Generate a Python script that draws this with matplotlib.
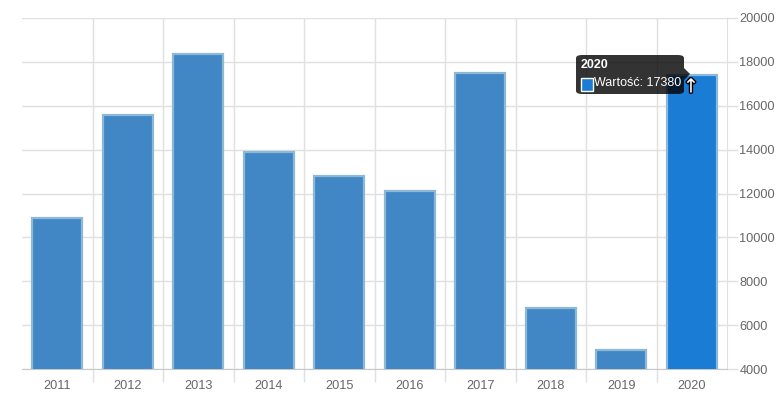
import matplotlib.pyplot as plt
import numpy as np
from matplotlib.patches import FancyBboxPatch, Polygon, Rectangle
from matplotlib.ticker import FixedLocator
import matplotlib.patheffects as pe

years = ["2011", "2012", "2013", "2014", "2015", "2016", "2017", "2018", "2019", "2020"]
values = [10900, 15590, 18340, 13900, 12810, 12130, 17480, 6790, 4880, 17380]
y_ticks = [4000, 6000, 8000, 10000, 12000, 14000, 16000, 18000, 20000]
tooltip_year = "2020"
tooltip_label = "Wartość"


def main():
    plt.rcParams["font.family"] = ["Liberation Sans", "DejaVu Sans"]
    W, H = 782, 398
    fig = plt.figure(figsize=(W / 100, H / 100), dpi=100)
    ax = fig.add_axes([22 / W, 1 - 369 / H, (727 - 22) / W, (369 - 18) / H])

    x = np.arange(len(years))
    colors = ["#4187C5"] * len(years)
    hi = years.index(tooltip_year)
    colors[hi] = "#1A7CD5"
    ax.bar(x, values, width=0.71, bottom=0, color=colors,
           edgecolor="#8DB9D6", linewidth=1.6, zorder=3)

    ax.set_xlim(-0.5, len(years) - 0.5)
    ax.set_ylim(y_ticks[0], y_ticks[-1])

    ax.set_xticks(x)
    ax.set_xticklabels(years)
    ax.xaxis.set_minor_locator(FixedLocator(np.arange(0.5, len(years) - 1, 1.0)))
    ax.tick_params(axis="x", which="major", length=0, pad=8, labelsize=9.2, labelcolor="#666666")
    ax.tick_params(axis="x", which="minor", length=9, color="#e0e0e0", width=1)

    ax.yaxis.tick_right()
    ax.set_yticks(y_ticks)
    ax.tick_params(axis="y", length=8, color="#e0e0e0", width=1, pad=1,
                   labelsize=9.2, labelcolor="#666666")

    ax.grid(which="major", axis="y", color="#e0e0e0", linewidth=1, zorder=0)
    ax.grid(which="minor", axis="x", color="#e0e0e0", linewidth=1, zorder=0)
    ax.set_axisbelow(True)

    for s in ["left", "top"]:
        ax.spines[s].set_visible(False)
    ax.spines["right"].set_color("#e0e0e0")
    ax.spines["bottom"].set_color("#c8c8c8")

    # tooltip (pixel coords -> figure fraction)
    def fx(px):
        return px / W

    def fy(py):
        return 1 - py / H

    box = FancyBboxPatch((fx(576), fy(94)), fx(684) - fx(576), fy(55) - fy(94),
                         boxstyle="round,pad=0,rounding_size=0.008",
                         transform=fig.transFigure, facecolor="black", alpha=0.8,
                         edgecolor="none", zorder=10)
    fig.add_artist(box)
    caret = Polygon([(fx(684), fy(68)), (fx(690), fy(74)), (fx(684), fy(80))],
                    closed=True, transform=fig.transFigure, facecolor="black",
                    alpha=0.8, edgecolor="none", zorder=10)
    fig.add_artist(caret)
    fig.text(fx(581), fy(65), tooltip_year, color="white", fontsize=9,
             fontweight="bold", va="center", ha="left", zorder=11)
    sq = Rectangle((fx(581), fy(91)), fx(593) - fx(581), fy(78) - fy(91),
                   transform=fig.transFigure, facecolor=colors[hi],
                   edgecolor="white", linewidth=1, zorder=11)
    fig.add_artist(sq)
    fig.text(fx(594), fy(83), f"{tooltip_label}: {values[hi]}", color="white",
             fontsize=9, va="center", ha="left", zorder=11)

    # mouse cursor
    arrow = fig.text(fx(691), fy(87), "↑", color="white", fontsize=14,
                     va="center", ha="center", zorder=12, family="DejaVu Sans")
    arrow.set_path_effects([pe.withStroke(linewidth=2, foreground="black")])

    fig.savefig("out.png", dpi=100)


if __name__ == "__main__":
    main()
